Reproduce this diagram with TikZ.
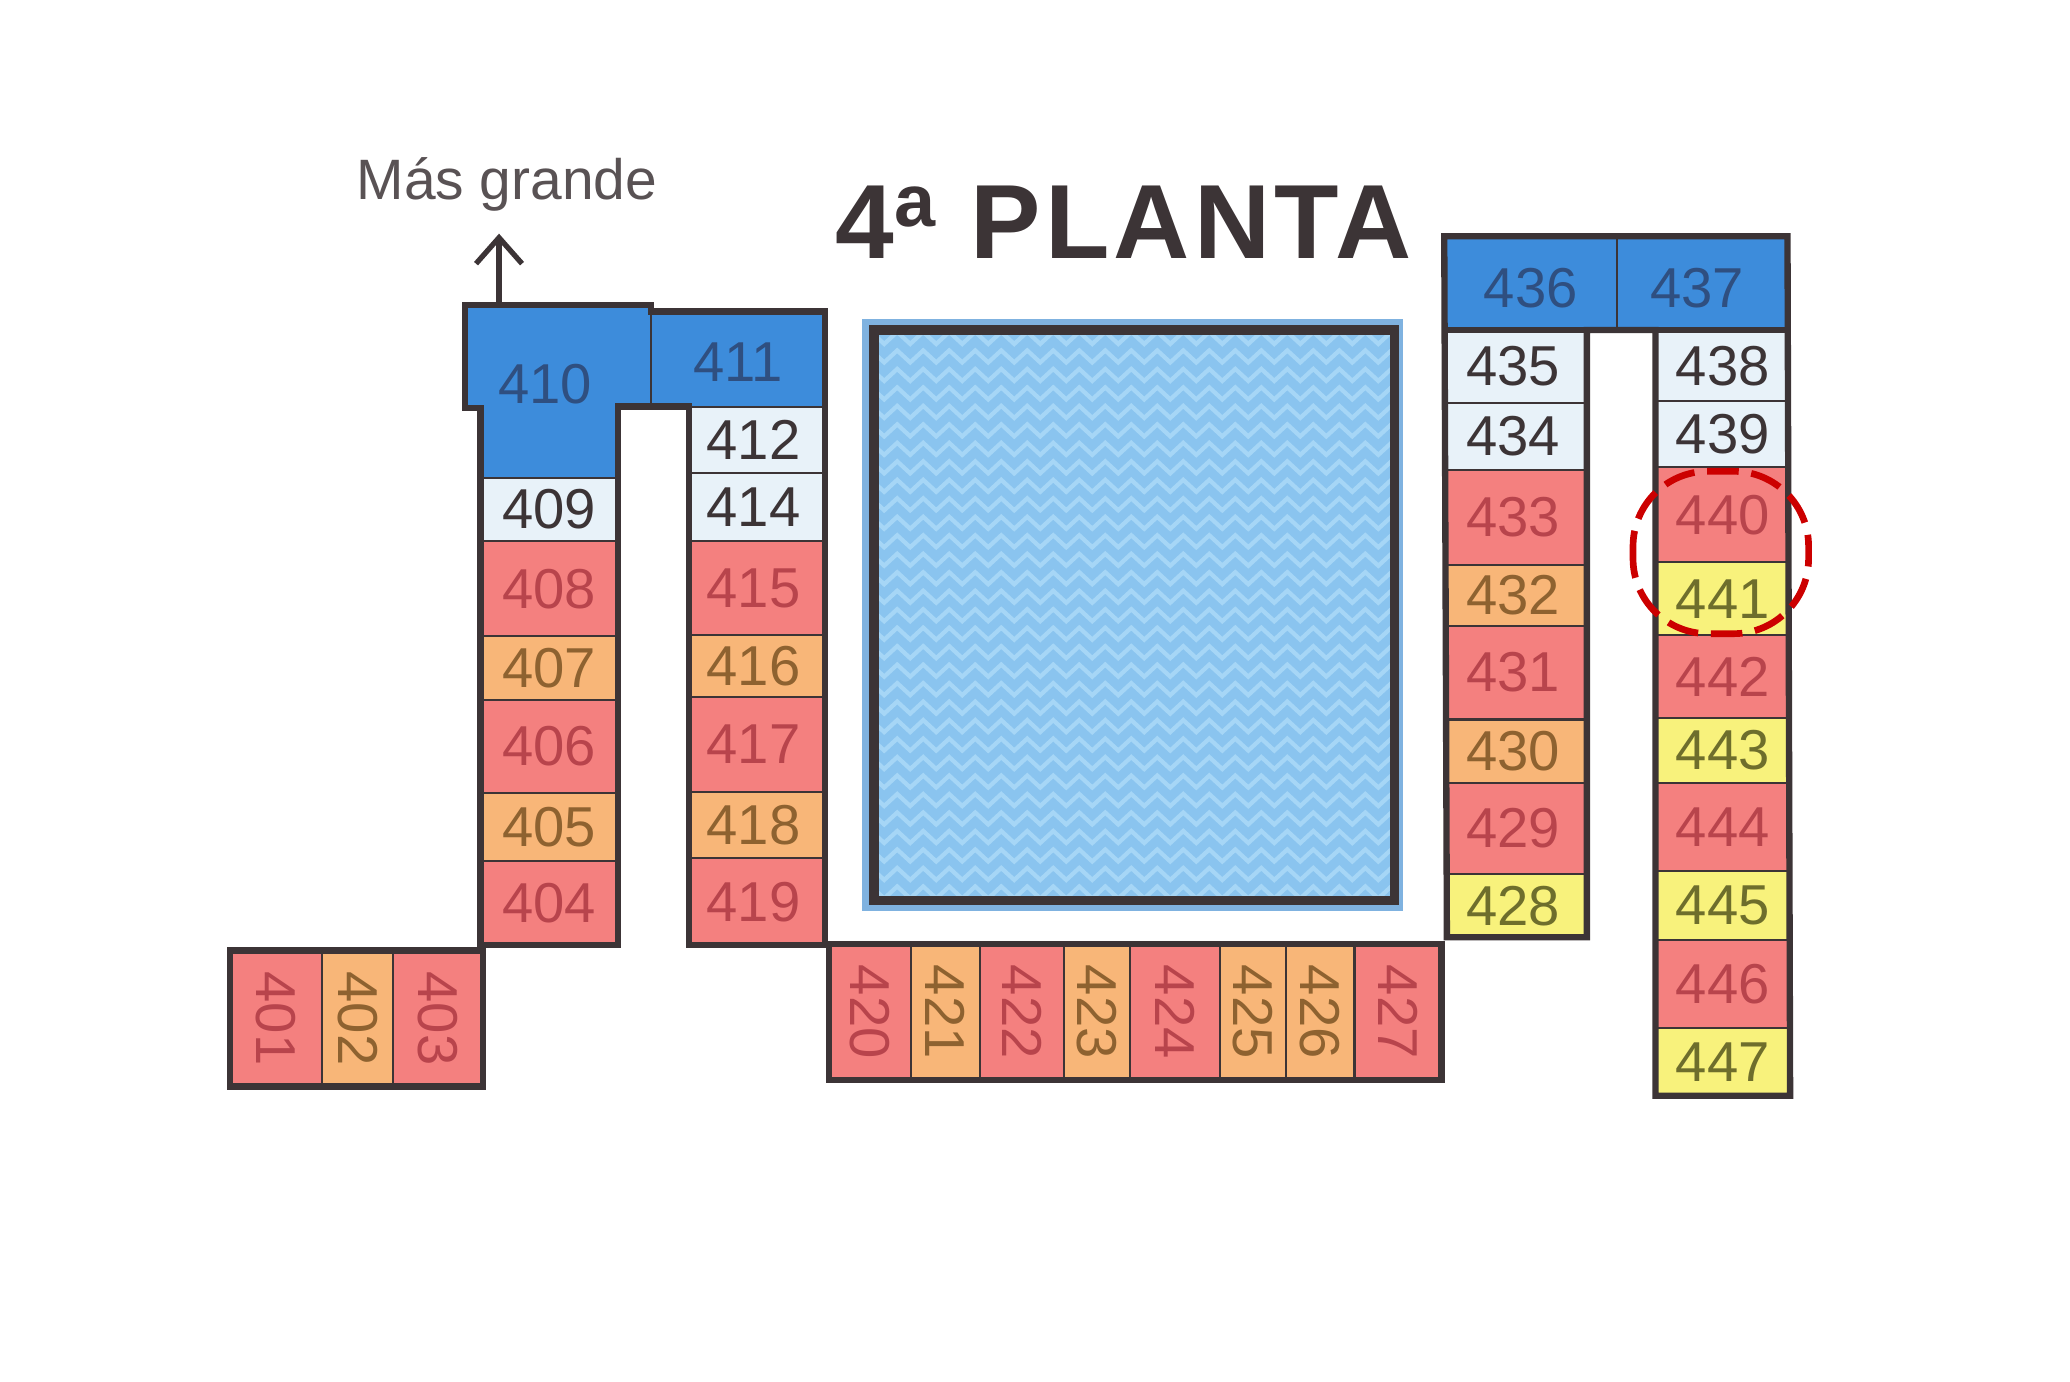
\documentclass[tikz,border=0pt]{standalone}
\usepackage{fontspec}
\setmainfont{Liberation Sans}
\usetikzlibrary{arrows.meta,decorations.pathmorphing}
\definecolor{wallgray}{HTML}{3C3436}
\definecolor{roomred}{HTML}{F4807F}
\definecolor{roomorange}{HTML}{F8B678}
\definecolor{roomyellow}{HTML}{F8F27C}
\definecolor{roomwhite}{HTML}{E8F2F9}
\definecolor{roomblue}{HTML}{3D8CDB}
\definecolor{poolblue}{HTML}{8AC4EF}
\definecolor{poolwave}{HTML}{A6D6F6}
\definecolor{poolrim}{HTML}{7FB2E0}
\definecolor{textred}{HTML}{B8444C}
\definecolor{textorange}{HTML}{8E6230}
\definecolor{textyellow}{HTML}{6E6E2C}
\definecolor{textblue}{HTML}{2F4F80}
\tikzset{
  room/.style={draw=wallgray,line width=0.6pt,font=\fontsize{16}{16}\selectfont},
  redroom/.style={room,fill=roomred,text=textred},
  orangeroom/.style={room,fill=roomorange,text=textorange},
  yellowroom/.style={room,fill=roomyellow,text=textyellow},
  whiteroom/.style={room,fill=roomwhite,text=wallgray},
  blueroom/.style={room,fill=roomblue,text=textblue},
  wall/.style={draw=wallgray,line width=1.8pt,line join=miter}
}
\begin{document}
\begin{tikzpicture}[x=0.0132cm,y=-0.0132cm]
  \useasboundingbox (0,0) rectangle (1568,1046.1);
  % pool
  \fill[poolrim] (653,242) rectangle (1063,690);
  \fill[poolblue] (662,250) rectangle (1056,682);
  \begin{scope}
    \clip (662,250) rectangle (1056,682);
    \foreach \yy in {256,270,...,680}
      \draw[poolwave,line width=1.2pt,decorate,decoration={zigzag,segment length=0.26cm,amplitude=0.06cm}] (655,\yy) -- (1062,\yy);
  \end{scope}
  \draw[wallgray,line width=2.6pt] (662,250) rectangle (1056,682);
  % left wing
  \foreach \num/\ytop/\ybot/\kind in {409/362/410/whiteroom,408/410/482/redroom,407/482/530/orangeroom,406/530/601/redroom,405/601/652/orangeroom,404/652/716/redroom}
    \draw[\kind] (364,\ytop) rectangle (468,\ybot) node[midway] (r\num) {\num};
  \foreach \num/\ytop/\ybot/\kind in {412/308/358/whiteroom,414/358/410/whiteroom,415/410/481/redroom,416/481/528/orangeroom,417/528/600/redroom,418/600/650/orangeroom,419/650/716/redroom}
    \draw[\kind] (522,\ytop) rectangle (625,\ybot) node[midway,xshift=-1pt] (r\num) {\num};
  \draw[blueroom] (352,231) -- (493,231) -- (493,308) -- (468,308) -- (468,362) -- (364,362) -- (364,309) -- (352,309) -- cycle;
  \node[font=\fontsize{16}{16}\selectfont,text=textblue] (r410) at (413,291) {410};
  \draw[blueroom] (493,236) rectangle (625,308) node[midway,yshift=-1pt] (r411) {411};
  \draw[wall] (352,231) -- (493,231) -- (493,236) -- (625,236) -- (625,716) -- (522,716) -- (522,308) -- (468,308) -- (468,716) -- (364,716) -- (364,309) -- (352,309) -- cycle;
  \draw[room] (493,236) -- (493,308);
  % arrow
  \node[font=\fontsize{16.2}{17}\selectfont,text=wallgray!85] (grande) at (384,140) {Más grande};
  \coordinate (arrowfoot) at (378,231);
  \coordinate (arrowtip) at (378,177);
  \draw[wallgray,line width=1.5pt,-{Straight Barb[length=0.26cm,width=0.46cm]}] (arrowfoot) -- (arrowtip);
  % bottom blocks
  \foreach \num/\xleft/\xright/\kind in {401/174/244/redroom,402/244/298/orangeroom,403/298/366/redroom}
    \draw[\kind] (\xleft,720) rectangle (\xright,823) node[midway,rotate=-90] (r\num) {\num};
  \draw[wall] (174,720) rectangle (366,823);
  \foreach \num/\xleft/\xright/\kind in {420/628/690/redroom,421/690/742/orangeroom,422/742/806/redroom,423/806/856/orangeroom,424/856/924/redroom,425/924/974/orangeroom,426/974/1026/orangeroom,427/1026/1092/redroom}
    \draw[\kind] (\xleft,715) rectangle (\xright,818) node[midway,rotate=-90] (r\num) {\num};
  \draw[wall] (628,715) rectangle (1092,818);
  % right wing
  \foreach \num/\ytop/\ybot/\kind in {435/250/305/whiteroom,434/305/356/whiteroom,433/356/428/redroom,432/428/474/orangeroom,431/474/545/redroom,430/545/593/orangeroom,429/593/662/redroom,428/662/710/yellowroom}
    \draw[\kind] (1096,\ytop) rectangle (1202,\ybot) node[midway,xshift=-1pt] (r\num) {\num};
  \foreach \num/\ytop/\ybot/\kind in {438/250/304/whiteroom,439/304/354/whiteroom,440/354/426/redroom,441/426/481/yellowroom,442/481/544/redroom,443/544/593/yellowroom,444/593/660/redroom,445/660/712/yellowroom,446/712/779/redroom,447/779/830/yellowroom}
    \draw[\kind] (1254,\ytop) rectangle (1356,\ybot) node[midway] (r\num) {\num};
  \draw[blueroom] (1094,179) rectangle (1225,250) node[midway,yshift=-1.5pt] (r436) {436};
  \draw[blueroom] (1225,179) rectangle (1354,250) node[midway,yshift=-1.5pt,xshift=-1.5pt] (r437) {437};
  \draw[wall] (1094,179) -- (1354,179) -- (1356,830) -- (1254,830) -- (1254,250) -- (1202,250) -- (1202,710) -- (1096,710) -- (1094,179) -- cycle;
  \draw[wall] (1094,250) -- (1354,250);
  % title
  \node[font=\fontsize{30}{30}\bfseries\addfontfeature{LetterSpace=4}\selectfont,text=wallgray] (title) at (851,168) {4\textsuperscript{a} PLANTA};
  % highlight
  \draw[red!80!black,line width=1.9pt,dash pattern=on 9pt off 3.6pt,rounded corners=0.75cm] (1237,357) rectangle (1370,480);
\end{tikzpicture}
\end{document}
